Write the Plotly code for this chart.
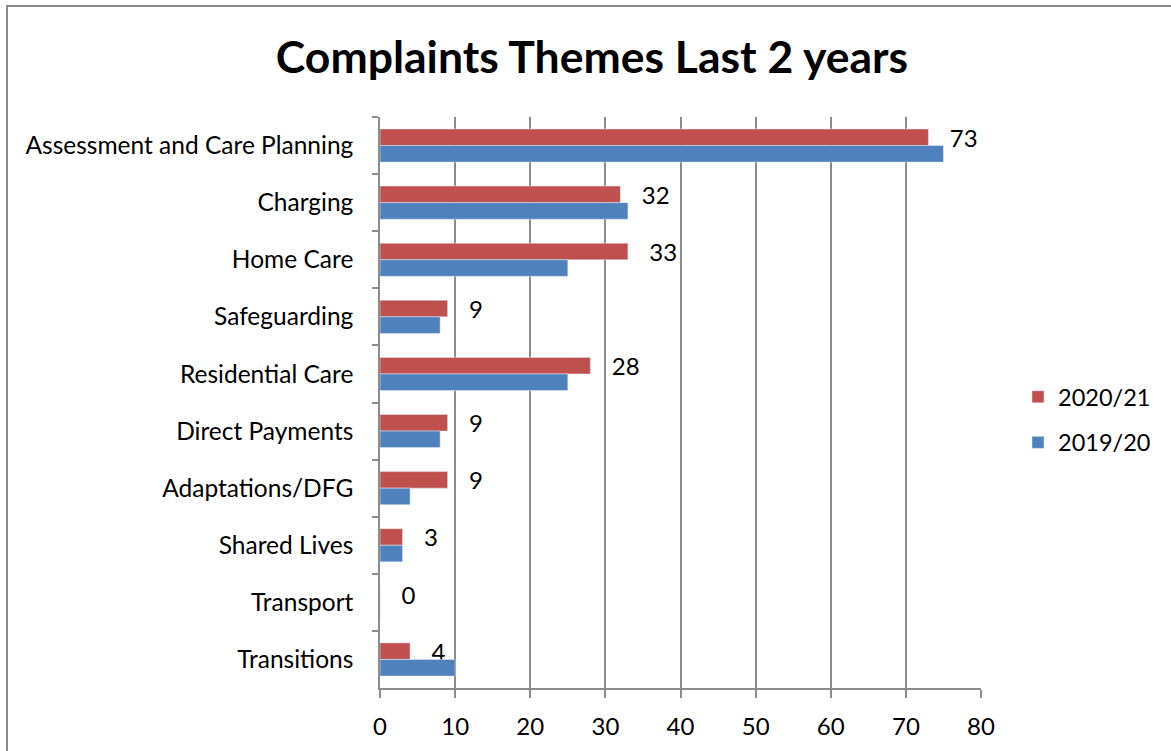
import plotly.graph_objects as go

categories = ["Assessment and Care Planning", "Charging", "Home Care", "Safeguarding",
              "Residential Care", "Direct Payments", "Adaptations/DFG", "Shared Lives",
              "Transport", "Transitions"]
values_2020_21 = [73, 32, 33, 9, 28, 9, 9, 3, 0, 4]
values_2019_20 = [75, 33, 25, 8, 25, 8, 4, 3, 0, 10]
series_names = ["2020/21", "2019/20"]
x_ticks = [0, 10, 20, 30, 40, 50, 60, 70, 80]

FONT = "Lato"
GRAY = "#8c8c8c"

fig = go.Figure()
fig.add_trace(go.Bar(
    y=categories, x=values_2020_21, orientation="h", name=series_names[0],
    marker=dict(color="#C0504D"), legendgroup="a",
    text=values_2020_21, texttemplate="   %{x}", textposition="outside",
    constraintext="none",
    textfont=dict(family=FONT, size=24, color="black"), cliponaxis=False,
))
fig.add_trace(go.Bar(
    y=categories, x=values_2019_20, orientation="h", name=series_names[1],
    marker=dict(color="#4F81BD"), legendgroup="b",
))

W, H = 1171, 751
L, R, T, B = 380, 190, 117, 63
pw, ph = W - L - R, H - T - B

def px_x(p):
    return (p - L) / pw

def px_y(p):
    return (H - B - p) / ph

fig.update_layout(
    width=W, height=H,
    margin=dict(l=L, r=R, t=T, b=B, autoexpand=False),
    paper_bgcolor="white", plot_bgcolor="white",
    barmode="group", bargap=0.42, bargroupgap=0,
    font=dict(family=FONT, size=24, color="black"),
    title=dict(text="<b>Complaints Themes Last 2 years</b>", x=592 / W, xanchor="center",
               y=1 - 57 / H, yanchor="middle",
               font=dict(family=FONT, size=44.5, color="black")),
    legend=dict(x=px_x(1018), xanchor="left", y=px_y(420), yanchor="middle",
                font=dict(family=FONT, size=23.5), tracegroupgap=12,
                bgcolor="rgba(0,0,0,0)"),
    showlegend=True,
    xaxis=dict(range=[0, 80], tickvals=x_ticks, showgrid=True, gridcolor=GRAY, gridwidth=1.5,
               showline=True, linecolor=GRAY, linewidth=1.5, ticks="outside", ticklen=8,
               tickcolor=GRAY, tickwidth=1.5, zeroline=False, ticklabelstandoff=8,
               tickfont=dict(family=FONT, size=24)),
    yaxis=dict(autorange="reversed", showline=True, linecolor=GRAY, linewidth=1.5,
               ticks="outside", ticklen=6, tickcolor=GRAY, tickwidth=1.5, tickson="boundaries",
               showgrid=False, ticklabelstandoff=20, tickfont=dict(family=FONT, size=24.5)),
    shapes=[dict(type="rect", xref="paper", yref="paper",
                 x0=px_x(7), x1=px_x(1200), y0=px_y(780), y1=px_y(6),
                 line=dict(color="#8a8a8a", width=2), fillcolor="rgba(0,0,0,0)", layer="below")],
)

fig.write_html("out.html", config={"displayModeBar": False},
               post_script="document.body.style.margin='0';document.body.style.overflow='hidden';")
